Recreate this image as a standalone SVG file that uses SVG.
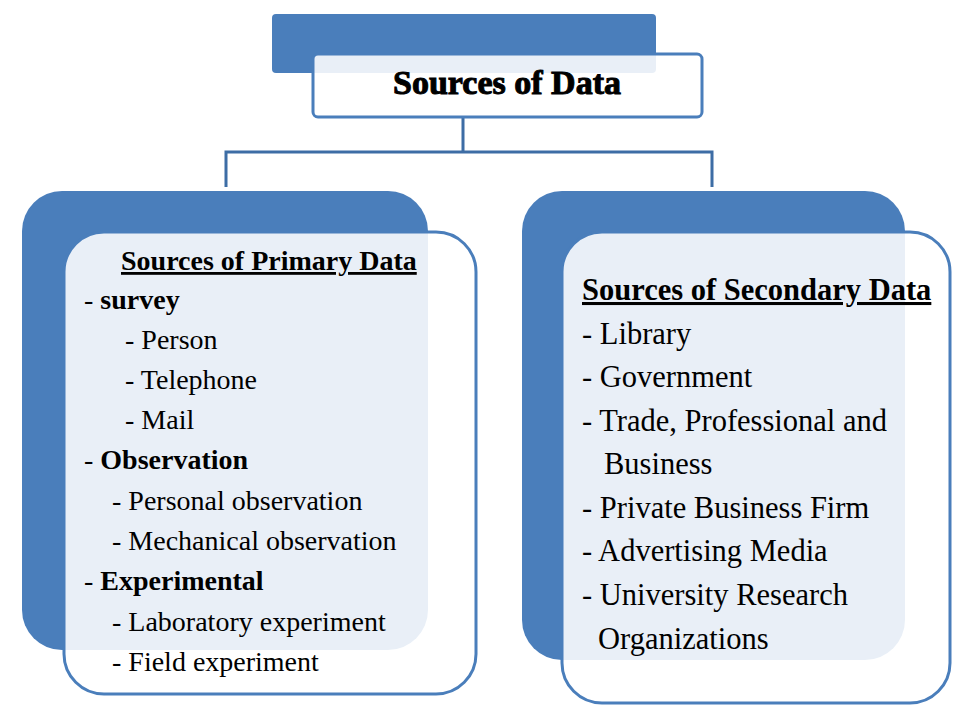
<svg xmlns="http://www.w3.org/2000/svg" width="968" height="718" viewBox="0 0 968 718">
<style>
.back{fill:#4a7ebb}
.front{fill:#fff;fill-opacity:0.88;stroke:#4a7ebb;stroke-width:3}
.conn{fill:none;stroke:#3d6da5;stroke-width:3}
text{font-family:"Liberation Serif","Times New Roman",serif;fill:#000}
.t{font-size:28px}
.r{font-size:30.5px}
.b{font-weight:bold}
</style>
<rect width="968" height="718" fill="#fff"/>
<g id="connectors">
<path class="conn" d="M463 117V152M226 187V152H712V187"/>
</g>
<g id="root">
<rect class="back" x="272" y="14" width="384" height="59" rx="4"/>
<rect class="front" x="313" y="54" width="389" height="63" rx="5"/>
<text x="507" y="94" text-anchor="middle" font-size="34" font-weight="900" stroke="#000" stroke-width="1">Sources of Data</text>
</g>
<g id="primary">
<rect class="back" x="22" y="191" width="406" height="459" rx="40"/>
<rect class="front" x="64" y="232" width="412" height="462" rx="40"/>
<text x="121" y="270" class="t b" text-decoration="underline">Sources of Primary Data</text>
<text x="84" y="309" class="t"><tspan>- </tspan><tspan class="b">survey</tspan></text>
<text x="125" y="349" class="t">- Person</text>
<text x="125" y="389" class="t">- Telephone</text>
<text x="125" y="429" class="t">- Mail</text>
<text x="84" y="469" class="t"><tspan>- </tspan><tspan class="b">Observation</tspan></text>
<text x="112" y="510" class="t">- Personal observation</text>
<text x="112" y="550" class="t">- Mechanical observation</text>
<text x="84" y="590" class="t"><tspan>- </tspan><tspan class="b">Experimental</tspan></text>
<text x="112" y="631" class="t">- Laboratory experiment</text>
<text x="112" y="671" class="t">- Field experiment</text>
</g>
<g id="secondary">
<rect class="back" x="522" y="191" width="383" height="469" rx="40"/>
<rect class="front" x="562" y="232" width="388" height="471" rx="40"/>
<text x="582" y="300" class="r b" text-decoration="underline">Sources of Secondary Data</text>
<text x="582" y="344" class="r">- Library</text>
<text x="582" y="387" class="r">- Government</text>
<text x="582" y="431" class="r">- Trade, Professional and</text>
<text x="604" y="474" class="r">Business</text>
<text x="582" y="518" class="r">- Private Business Firm</text>
<text x="582" y="561" class="r">- Advertising Media</text>
<text x="582" y="605" class="r">- University Research</text>
<text x="598" y="649" class="r">Organizations</text>
</g>
</svg>
